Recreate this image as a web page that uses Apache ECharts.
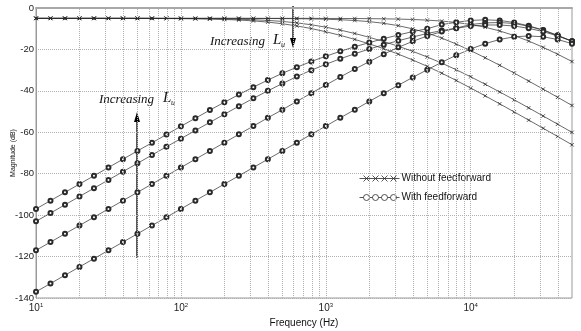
<!DOCTYPE html>
<html>
<head>
<meta charset="utf-8">
<script src="https://cdn.jsdelivr.net/npm/echarts@6/dist/echarts.min.js"></script>
<style>
html, body { margin: 0; padding: 0; background: #fff; }
#main { width: 581px; height: 331px; }
</style>
</head>
<body>
<div id="main"></div>
<script>
// frequency points (Hz), about ten per decade
var freq = [10, 12.59, 15.85, 19.95, 25.12, 31.62, 39.81, 50.12, 63.1, 79.43,
            100, 125.9, 158.5, 199.5, 251.2, 316.2, 398.1, 501.2, 631, 794.3,
            1000, 1259, 1585, 1995, 2512, 3162, 3981, 5012, 6310, 7943,
            10000, 12589, 15849, 19953, 25119, 31623, 39811, 50000];

// without feedforward (x markers), largest Lu first
var noFf1 = [-5.0, -5.0, -5.0, -5.0, -5.0, -5.0, -5.0, -5.0, -5.05, -5.09,
             -5.14, -5.21, -5.34, -5.53, -5.81, -6.22, -6.81, -7.61, -8.65, -9.93,
             -11.46, -13.2, -15.16, -17.31, -19.67, -22.26, -25.1, -28.17, -31.46, -34.97,
             -38.64, -42.41, -46.27, -50.17, -54.11, -58.07, -62.04, -66.03];
var noFf2 = [-5.0, -5.0, -5.0, -5.0, -5.0, -5.0, -5.0, -5.0, -5.0, -5.04,
             -5.07, -5.11, -5.17, -5.27, -5.42, -5.65, -5.99, -6.48, -7.18, -8.1,
             -9.26, -10.67, -12.31, -14.15, -16.2, -18.46, -20.93, -23.65, -26.61, -29.81,
             -33.22, -36.81, -40.53, -44.33, -48.21, -52.14, -56.09, -60.05];
var noFf3 = [-5.0, -5.0, -5.0, -5.0, -5.0, -5.0, -5.0, -5.0, -5.0, -5.0,
             -5.0, -5.0, -5.0, -5.0, -5.0, -5.04, -5.07, -5.11, -5.17, -5.27,
             -5.42, -5.66, -6.03, -6.58, -7.39, -8.53, -10.08, -12.08, -14.53, -17.39,
             -20.58, -24.03, -27.66, -31.42, -35.27, -39.17, -43.1, -47.06];
var noFf4 = [-5.0, -5.0, -5.0, -5.0, -5.0, -5.0, -5.0, -5.0, -5.0, -5.0,
             -5.0, -5.0, -5.0, -5.0, -5.0, -5.0, -5.0, -5.0, -5.0, -5.0,
             -5.04, -5.06, -5.09, -5.14, -5.22, -5.35, -5.54, -5.85, -6.31, -6.98,
             -7.96, -9.3, -11.08, -13.3, -15.96, -18.98, -22.31, -25.85];

// with feedforward (o markers), largest Lu first
var withFf1 = [-97, -93, -89, -85, -81, -77, -73, -69.0, -65.1, -61.1,
               -57.1, -53.2, -49.3, -45.5, -41.8, -38.2, -34.8, -31.5, -28.6, -25.8,
               -23.3, -20.9, -18.7, -16.7, -14.8, -13.0, -11.4, -10.0, -8.0, -6.9,
               -6.0, -5.7, -6.0, -7.0, -8.6, -10.6, -13.2, -16.0];
var withFf2 = [-103, -99, -95, -91, -87, -83, -79.0, -75.0, -71.0, -67.0,
               -63.1, -59.1, -55.2, -51.3, -47.4, -43.6, -40.0, -36.5, -33.1, -30.0,
               -27.2, -24.5, -22.1, -19.8, -17.7, -15.8, -14.0, -12.3, -10.9, -9.7,
               -8.0, -7.2, -7.0, -7.5, -8.8, -10.8, -13.3, -16.1];
var withFf3 = [-117, -113, -109, -105, -101, -97, -93, -89, -85, -81,
               -77, -73, -69.0, -65.0, -61.0, -57.0, -53.0, -49.1, -45.1, -41.1,
               -37.2, -33.3, -29.5, -25.9, -22.3, -19.0, -16.1, -13.5, -11.4, -9.8,
               -8.7, -8.2, -8.2, -8.7, -9.8, -11.4, -13.5, -16.0];
var withFf4 = [-137, -133, -129, -125, -121, -117, -113, -109, -105, -101,
               -97, -93, -89, -85, -81, -77, -73, -69.0, -65.0, -61.0,
               -57.0, -53.0, -49.1, -45.1, -41.2, -37.3, -33.5, -29.8, -26.2, -22.8,
               -19.8, -17.2, -15.2, -13.9, -13.5, -13.9, -15.2, -17.2];

var decades = [10, 100, 1000, 10000];
var gridMultipliers = [1, 2, 3, 4, 5, 6, 7, 8, 9];

function pairs(ys) {
    return freq.map(function (f, i) { return [f, ys[i]]; });
}

var vGrid = [];
decades.forEach(function (d) {
    gridMultipliers.forEach(function (m) {
        var v = d * m;
        if (v > 10 && v < 50000) vGrid.push({ xAxis: v });
    });
});

var crossSymbol = 'path://M0,0L8,8M0,8L8,0';
var ink = '#2a2a2a';

function noFfSeries(ys) {
    return {
        name: 'Without feedforward',
        type: 'line',
        data: pairs(ys),
        symbol: crossSymbol,
        symbolSize: 3.5,
        showAllSymbol: true,
        lineStyle: { color: ink, width: 0.7 },
        itemStyle: { color: ink, borderColor: ink, borderWidth: 0.8 },
        z: 3
    };
}
function withFfSeries(ys) {
    return {
        name: 'With feedforward',
        type: 'line',
        data: pairs(ys),
        symbol: 'emptyCircle',
        symbolSize: 4,
        showAllSymbol: true,
        lineStyle: { color: ink, width: 0.7 },
        itemStyle: { color: ink, borderColor: ink, borderWidth: 0.7 },
        z: 3
    };
}

var chart = echarts.init(document.getElementById('main'));
var font = 'Liberation Sans, Arial, sans-serif';
var serif = 'Liberation Serif, Times New Roman, serif';

var option = {
    animation: false,
    backgroundColor: '#fff',
    grid: {
        left: 36, right: 9, top: 8, bottom: 33,
        outerBoundsMode: 'none',
        containLabel: false,
        show: true, borderColor: '#9a9a9a', borderWidth: 1
    },
    legend: {
        orient: 'vertical',
        left: 352, top: 168,
        itemGap: 8,
        itemWidth: 40, itemHeight: 8,
        textStyle: { fontFamily: font, fontSize: 10, color: '#111', padding: [0, 0, 0, -3] },
        itemStyle: { color: 'none', borderColor: ink, borderWidth: 0.8 },
        lineStyle: { width: 0 },
        data: [
            { name: 'Without feedforward',
              icon: 'path://M0,5L40,5M4,2L10,8M4,8L10,2M13,2L19,8M13,8L19,2M22,2L28,8M22,8L28,2M31,2L37,8M31,8L37,2' },
            { name: 'With feedforward',
              icon: 'path://M0,5L4,5M10,5L13,5M19,5L22,5M28,5L31,5M37,5L40,5M10,5A3,3,0,1,0,4,5A3,3,0,1,0,10,5M19,5A3,3,0,1,0,13,5A3,3,0,1,0,19,5M28,5A3,3,0,1,0,22,5A3,3,0,1,0,28,5M37,5A3,3,0,1,0,31,5A3,3,0,1,0,37,5' }
        ]
    },
    xAxis: {
        type: 'log',
        logBase: 10,
        min: 10,
        max: 50000,
        name: 'Frequency (Hz)',
        nameLocation: 'middle',
        nameGap: 20,
        nameMoveOverlap: false,
        nameTextStyle: { fontFamily: font, fontSize: 10, color: '#111' },
        axisLine: { lineStyle: { color: '#a8a8a8', width: 2 } },
        axisTick: { show: false },
        splitLine: { show: false },
        axisLabel: {
            margin: 4,
            showMaxLabel: false,
            color: '#222',
            formatter: function (v) {
                var e = Math.round(Math.log10(v));
                return '{b|10}{s|' + e + '}';
            },
            rich: {
                b: { fontFamily: font, fontSize: 10, color: '#222' },
                s: { fontFamily: font, fontSize: 6, color: '#222', padding: [0, 0, 7, 0] }
            }
        }
    },
    yAxis: {
        type: 'value',
        min: -140,
        max: 0,
        interval: 20,
        name: 'Magnitude (dB)',
        nameLocation: 'middle',
        nameGap: 19,
        nameMoveOverlap: false,
        nameTextStyle: { fontFamily: font, fontSize: 7, color: '#111' },
        axisLine: { show: true, lineStyle: { color: '#9a9a9a', width: 1 } },
        axisTick: { show: false },
        axisLabel: { fontFamily: font, fontSize: 9.5, color: '#222', margin: 2 },
        splitLine: { show: true, lineStyle: { color: '#b0b0b0', type: 'dotted', width: 1 } }
    },
    graphic: [
        { type: 'text', left: 210, top: 35, style: { text: 'Increasing', font: 'italic 13px ' + serif, fill: '#111' } },
        { type: 'text', left: 273, top: 33, style: { text: 'L', font: 'italic 15px ' + serif, fill: '#111' } },
        { type: 'text', left: 281, top: 41, style: { text: 'u', font: 'italic 8px ' + serif, fill: '#111' } },
        { type: 'line', shape: { x1: 293, y1: 6, x2: 293, y2: 40 }, style: { stroke: '#000', lineWidth: 1.3 } },
        { type: 'polygon', shape: { points: [[290, 38], [296, 38], [293, 48]] }, style: { fill: '#000' } },
        { type: 'text', left: 99, top: 93, style: { text: 'Increasing', font: 'italic 13px ' + serif, fill: '#111' } },
        { type: 'text', left: 163, top: 91, style: { text: 'L', font: 'italic 15px ' + serif, fill: '#111' } },
        { type: 'text', left: 171, top: 99, style: { text: 'u', font: 'italic 8px ' + serif, fill: '#111' } },
        { type: 'line', shape: { x1: 137, y1: 258, x2: 137, y2: 120 }, style: { stroke: '#000', lineWidth: 1.3 } },
        { type: 'polygon', shape: { points: [[134, 122], [140, 122], [137, 112]] }, style: { fill: '#000' } }
    ],
    series: [
        {
            type: 'line',
            data: [],
            silent: true,
            z: 1,
            markLine: {
                silent: true,
                symbol: ['none', 'none'],
                label: { show: false },
                lineStyle: { color: '#b0b0b0', type: 'dotted', width: 1 },
                data: vGrid
            }
        },
        noFfSeries(noFf1),
        noFfSeries(noFf2),
        noFfSeries(noFf3),
        noFfSeries(noFf4),
        withFfSeries(withFf1),
        withFfSeries(withFf2),
        withFfSeries(withFf3),
        withFfSeries(withFf4)
    ]
};

chart.setOption(option);
</script>
</body>
</html>
